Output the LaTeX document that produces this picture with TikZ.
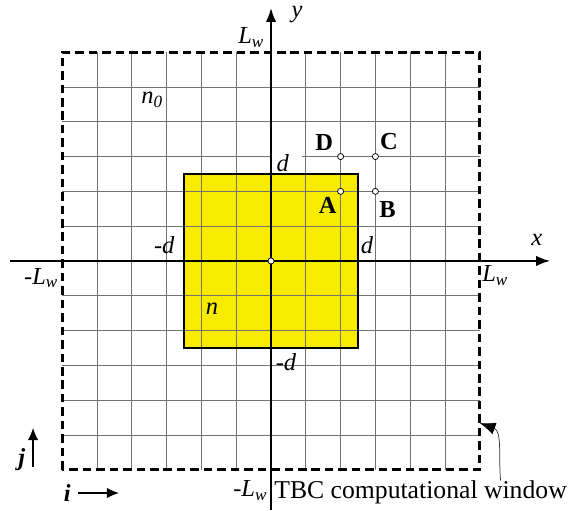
\documentclass[tikz,border=0pt]{standalone}
\usepackage{fontspec}
\setmainfont{Liberation Serif}
\usepackage{xcolor}
\usepackage{tikz}
\usetikzlibrary{arrows.meta,positioning}
\definecolor{coreyellow}{RGB}{247,236,0}
\newcommand{\Lw}{\textit{L}\textsubscript{\textit{w}}}

\begin{document}
\begin{tikzpicture}[x=1cm, y=1cm, line width=0.6pt,
  lbl/.style={font=\fontsize{20}{24}\selectfont, inner sep=1pt},
  ptlbl/.style={font=\fontsize{20}{24}\selectfont\bfseries, inner sep=1pt},
  gridpt/.style={circle, draw=black, fill=white, inner sep=0pt, minimum size=5pt, line width=0.6pt}]
  \useasboundingbox (-7.79,-7.16) rectangle (8.65,7.5);
  % core region |x|,|y| < d
  \fill[coreyellow] (-2.5,-2.5) rectangle (2.5,2.5);
  % grid inside the window
  \foreach \k in {-5,...,5}
    \draw[black!55] (\k,-6) -- (\k,6);
  \foreach \k in {-5,...,2,4,5}
    \draw[black!55] (-6,\k) -- (6,\k);
  \draw[black!55] (-6,3) -- (0,3);
  \draw[black!55] (0.9,3) -- (6,3);
  % window border and core border
  \draw[line width=2.2pt, dash pattern=on 7pt off 4pt] (-6,-6) rectangle (6,6);
  \draw[line width=1.4pt] (-2.5,-2.5) rectangle (2.5,2.5);
  % axes
  \coordinate (xstart) at (-7.5,0);
  \coordinate (xend) at (8.02,0);
  \coordinate (ystart) at (0,-7.16);
  \coordinate (yend) at (0,7.27);
  \draw[line width=1.5pt, -{Latex[length=4mm,width=3mm]}] (xstart) -- (xend);
  \draw[line width=1.5pt, -{Latex[length=4mm,width=3mm]}] (ystart) -- (yend);
  % grid points
  \node[gridpt] (O) at (0,0) {};
  \node[gridpt] (A) at (2,2) {};
  \node[gridpt] (B) at (3,2) {};
  \node[gridpt] (C) at (3,3) {};
  \node[gridpt] (D) at (2,3) {};
  \node[ptlbl, above left=0.05cm and 0.1cm of D] (labD) {D};
  \node[ptlbl, above right=0.08cm and 0.02cm of C] (labC) {C};
  \node[ptlbl, below left=0.05cm and 0cm of A] (labA) {A};
  \node[ptlbl, below right=0.18cm and 0cm of B] (labB) {B};
  % axis labels
  \node[lbl] (ylab) at (0.75,7.08) {\textit{y}};
  \node[lbl] (xlab) at (7.64,0.6) {\textit{x}};
  \node[lbl] (Lwtop) at (-0.57,6.41) {\Lw};
  \node[lbl] (Lwright) at (6.44,-0.43) {\Lw};
  \node[lbl] (Lwleft) at (-6.61,-0.49) {-\Lw};
  \node[lbl] (Lwbot) at (-0.6,-6.61) {-\Lw};
  \node[lbl] (dtop) at (0.34,2.82) {\textit{d}};
  \node[lbl] (dright) at (2.76,0.46) {\textit{d}};
  \node[lbl] (dleft) at (-3.07,0.46) {-\textit{d}};
  \node[lbl] (dbot) at (0.43,-2.9) {-\textit{d}};
  \node[lbl] (nout) at (-3.42,4.63) {\textit{n}\textsubscript{\textit{0}}};
  \node[lbl] (nin) at (-1.7,-1.38) {\textit{n}};
  % index directions
  \node[lbl] (jlab) at (-7.16,-5.72) {\textbf{\textit{j}}};
  \node[lbl] (ilab) at (-5.86,-6.67) {\textbf{\textit{i}}};
  \coordinate (jtail) at (-6.84,-5.92);
  \coordinate (jtip) at (-6.84,-4.8);
  \coordinate (itail) at (-5.55,-6.67);
  \coordinate (itip) at (-4.37,-6.67);
  \draw[line width=1pt, -{Latex[length=3.5mm,width=3mm]}] (jtail) -- (jtip);
  \draw[line width=1pt, -{Latex[length=3.5mm,width=3mm]}] (itail) -- (itip);
  % window caption
  \node[lbl, anchor=west, font=\fontsize{21}{25}\selectfont] (tbc) at (0.05,-6.64) {TBC computational window};
  \coordinate (winedge) at (6.0,-4.66);
  \draw[black!80, -{Latex[length=4.5mm,width=3.5mm,black]}] ([xshift=-1.95cm,yshift=-0.05cm]tbc.north east) to[out=95, in=-20] (winedge);
\end{tikzpicture}
\end{document}
